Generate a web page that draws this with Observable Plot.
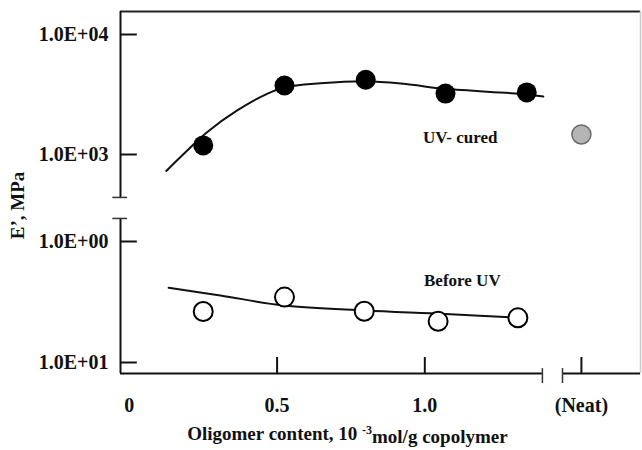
<!DOCTYPE html>
<html>
<head>
<meta charset="utf-8">
<script src="https://cdn.jsdelivr.net/npm/d3@7"></script>
<script src="https://cdn.jsdelivr.net/npm/@observablehq/plot@0.6"></script>
<style>
  body { margin: 0; background: #fff; }
  #chart svg { display: block; }
</style>
</head>
<body>
<div id="chart"></div>
<script>
// Storage modulus E' (MPa) against oligomer content (10^-3 mol/g copolymer)
const uvCuredX = [0.25, 0.525, 0.80, 1.07, 1.345];
const uvCuredE = [1190, 3760, 4200, 3220, 3290];
const beforeUvX = [0.25, 0.525, 0.795, 1.045, 1.315];
const beforeUvE = [26.4, 34.7, 26.5, 21.9, 23.4];

// Neat copolymer, UV-cured
const neatX = 1.53;
const neatE = [1470];

// Smooth trend curves drawn through each series
const uvCuredFitX = [0.125, 0.196, 0.263, 0.365, 0.466, 0.526, 0.646, 0.799, 0.929, 1.070, 1.323, 1.401];
const uvCuredFitE = [647, 1079, 1535, 2328, 3206, 3640, 3926, 4083, 3882, 3524, 3199, 3041];
const beforeUvFitX = [0.133, 0.308, 0.523, 0.797, 1.070, 1.317];
const beforeUvFitE = [41.4, 35.8, 29.6, 26.9, 25.2, 23.4];

// Tick values and their printed labels
const xTickValues = [0, 0.5, 1.0, neatX];
const xTickLabels = ["0", "0.5", "1.0", "(Neat)"];
const yTickValues = [10000, 1000, 100, 10];
const yTickLabels = ["1.0E+04", "1.0E+03", "1.0E+00", "1.0E+01"];

// Axis geometry (data units): broken x axis before "Neat", broken y axis between decades
const xMin = -0.03, xMax = 1.73;
const xBreakA = 1.398, xBreakB = 1.466;
const yBottom = 8.1, yTop = 15550;
const yBreakLow = 184, yBreakHigh = 321;

const zip = (xs, ys) => xs.map((x, i) => ({x, y: ys[i]}));
const uvCured = zip(uvCuredX, uvCuredE);
const beforeUv = zip(beforeUvX, beforeUvE);
const uvCuredFit = zip(uvCuredFitX, uvCuredFitE);
const beforeUvFit = zip(beforeUvFitX, beforeUvFitE);
const neat = neatE.map(y => ({x: neatX, y}));

const axisStroke = {stroke: "#111", strokeWidth: 2};

const chart = Plot.plot({
  width: 642,
  height: 450,
  marginLeft: 120,
  marginRight: 2,
  marginTop: 11,
  marginBottom: 77,
  style: {
    fontFamily: "'Liberation Serif', 'Times New Roman', serif",
    fontWeight: "bold",
    fontSize: "17px",
    background: "#fff",
    color: "#111"
  },
  x: {domain: [xMin, xMax]},
  // piecewise log scale: the lower decade sits below a compressed break
  y: {type: "log", domain: [10, 100, 1000, 10000], range: [362, 241, 154, 34]},
  marks: [
    // frame top and faint right edge
    Plot.ruleY([yTop], {x1: xMin, x2: xMax, stroke: "#222", strokeWidth: 2}),
    Plot.ruleX([xMax], {y1: yBottom, y2: yTop, stroke: "#ccc", strokeWidth: 1.5}),
    // left axis in two pieces with caps at the break
    Plot.ruleX([xMin], {y1: yBottom, y2: yBreakLow, ...axisStroke}),
    Plot.ruleX([xMin], {y1: yBreakHigh, y2: yTop, ...axisStroke}),
    Plot.ruleY([yBreakLow, yBreakHigh], {x1: xMin - 0.026, x2: xMin + 0.024, stroke: "#333", strokeWidth: 1.5}),
    // bottom axis in two pieces with caps at the break
    Plot.ruleY([yBottom], {x1: xMin, x2: xBreakA, ...axisStroke}),
    Plot.ruleY([yBottom], {x1: xBreakB, x2: xMax, ...axisStroke}),
    Plot.ruleX([xBreakA, xBreakB], {y1: 6.7, y2: 8.9, stroke: "#333", strokeWidth: 1.5}),
    // inward tick marks
    Plot.ruleY(yTickValues, {x1: xMin, x2: 0.027, ...axisStroke}),
    Plot.ruleX(xTickValues.slice(1), {y1: yBottom, y2: 11.0, ...axisStroke}),
    // tick labels
    Plot.axisY({
      ticks: yTickValues,
      tickFormat: d => yTickLabels[yTickValues.indexOf(d)],
      tickSize: 0, tickPadding: 12, fontSize: 20, label: null
    }),
    Plot.axisX({
      ticks: xTickValues,
      tickFormat: d => xTickLabels[xTickValues.indexOf(d)],
      tickSize: 0, tickPadding: 24, fontSize: 20, label: null
    }),
    // trend curves
    Plot.line(uvCuredFit, {x: "x", y: "y", curve: "catmull-rom", stroke: "#111", strokeWidth: 2}),
    Plot.line(beforeUvFit, {x: "x", y: "y", curve: "catmull-rom", stroke: "#111", strokeWidth: 2}),
    // measured points
    Plot.dot(uvCured, {x: "x", y: "y", r: 10, fill: "#000", stroke: "none"}),
    Plot.dot(beforeUv, {x: "x", y: "y", r: 9.5, fill: "#fff", stroke: "#000", strokeWidth: 2}),
    Plot.dot(neat, {x: "x", y: "y", r: 9.5, fill: "#b5b5b5", stroke: "#6a6a6a", strokeWidth: 1.5}),
    // series annotations
    Plot.text(["UV- cured"], {x: 1.12, y: 1385, fontSize: 17}),
    Plot.text(["Before UV"], {x: 1.127, y: 47.6, fontSize: 17}),
    // axis titles
    Plot.text(["Oligomer content, 10 -3mol/g copolymer"], {x: 0.738, frameAnchor: "bottom", dy: 66, fontSize: 19}),
    Plot.text(["E\u2019, MPa"], {frameAnchor: "left", textAnchor: "middle", dx: -103, dy: 13, rotate: -90, fontSize: 19})
  ]
});

// raise the exponent in the x-axis title
d3.select(chart).selectAll("text")
  .filter(function () { return this.textContent.startsWith("Oligomer"); })
  .each(function () {
    const t = d3.select(this);
    t.text(null);
    t.append("tspan").text("Oligomer content, 10 ");
    t.append("tspan").attr("dy", "-0.5em").attr("font-size", "12px").text("-3");
    t.append("tspan").attr("dy", "0.5em").text("mol/g copolymer");
  });

document.getElementById("chart").appendChild(chart);
</script>
</body>
</html>
